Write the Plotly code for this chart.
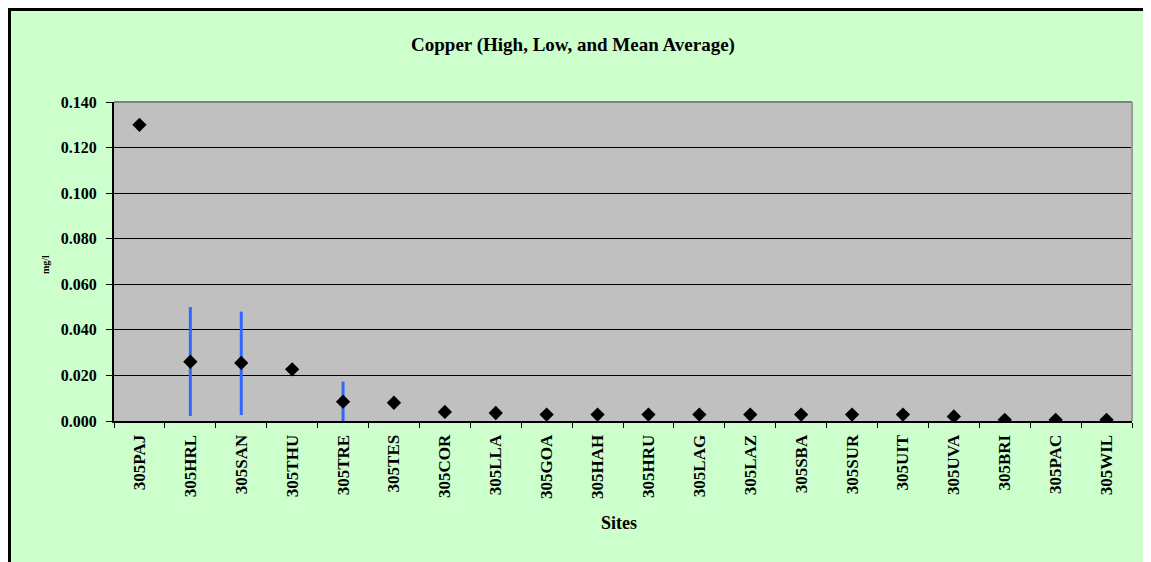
import plotly.graph_objects as go

# Copper results per site (mg/l)
sites = ["305PAJ", "305HRL", "305SAN", "305THU", "305TRE", "305TES", "305COR",
         "305LLA", "305GOA", "305HAH", "305HRU", "305LAG", "305LAZ", "305SBA",
         "305SUR", "305UIT", "305UVA", "305BRI", "305PAC", "305WIL"]
mean_avg = [0.130, 0.026, 0.0255, 0.0227, 0.0085, 0.008, 0.004,
            0.0035, 0.0028, 0.0028, 0.0028, 0.0028, 0.0028, 0.0028,
            0.0028, 0.0028, 0.002, 0.0005, 0.0005, 0.0005]
high = [0.130, 0.050, 0.048, 0.0227, 0.0173, 0.008, 0.004,
        0.0035, 0.0028, 0.0028, 0.0028, 0.0028, 0.0028, 0.0028,
        0.0028, 0.0028, 0.002, 0.0005, 0.0005, 0.0005]
low = [0.130, 0.0022, 0.0026, 0.0227, 0.0, 0.008, 0.004,
       0.0035, 0.0028, 0.0028, 0.0028, 0.0028, 0.0028, 0.0028,
       0.0028, 0.0028, 0.002, 0.0005, 0.0005, 0.0005]
y_ticks = [0.0, 0.02, 0.04, 0.06, 0.08, 0.10, 0.12, 0.14]

err_plus = [h - m for h, m in zip(high, mean_avg)]
err_minus = [m - l for m, l in zip(mean_avg, low)]

serif = "Liberation Serif, Times New Roman, serif"
green = "#CCFFCC"

fig = go.Figure()
fig.add_trace(go.Scatter(
    x=sites,
    y=mean_avg,
    mode="markers",
    marker=dict(symbol="diamond", size=11, color="black"),
    error_y=dict(type="data", symmetric=False, array=err_plus,
                 arrayminus=err_minus, color="#3366FF", thickness=3, width=0),
    showlegend=False,
))

# page has an 8px body margin, so figure coords = screen coords - 8
OFF = 8
W, H = 1151 - OFF, 562 - OFF
L, R, T, B = 114 - OFF, 1132 - OFF, 102 - OFF, 421 - OFF


def px(x):
    return (x - OFF - L) / (R - L)


def py(y):
    return (B - (y - OFF)) / (B - T)


shapes = [
    # black chart border on left and top
    dict(type="line", xref="paper", yref="paper", x0=px(9.5), x1=px(9.5),
         y0=py(8), y1=py(562), line=dict(color="black", width=3)),
    dict(type="line", xref="paper", yref="paper", x0=px(8), x1=px(1151),
         y0=py(9.5), y1=py(9.5), line=dict(color="black", width=3)),
    # plot area top/right border
    dict(type="line", xref="paper", yref="paper", x0=0, x1=1, y0=1, y1=1,
         line=dict(color="#808080", width=2)),
    dict(type="line", xref="paper", yref="paper", x0=1, x1=1, y0=0, y1=1,
         line=dict(color="#999999", width=2)),
]

fig.update_layout(
    width=W,
    height=H,
    paper_bgcolor=green,
    plot_bgcolor="#C0C0C0",
    margin=dict(l=L, r=W - R, t=T, b=H - B),
    font=dict(family=serif, color="black"),
    title=dict(text="<b>Copper (High, Low, and Mean Average)</b>",
               x=(573 - OFF) / W, xanchor="center",
               y=1 - (44 - OFF) / H, yanchor="middle",
               xref="container", yref="container",
               font=dict(family=serif, size=19, color="black")),
    xaxis=dict(
        type="category",
        range=[-0.5, len(sites) - 0.5],
        showgrid=False,
        showline=True, linecolor="black", linewidth=2,
        ticks="outside", tickson="boundaries", ticklen=5,
        tickcolor="black", tickwidth=1,
        tickangle=-90, ticklabelstandoff=5,
        tickfont=dict(family=serif, size=17, color="black", weight="bold"),
    ),
    yaxis=dict(
        range=[0, 0.14],
        tickvals=y_ticks,
        tickformat=".3f",
        showgrid=True, gridcolor="black", gridwidth=1,
        zeroline=False,
        showline=True, linecolor="black", linewidth=2,
        ticks="outside", ticklen=6, tickcolor="black", tickwidth=1,
        ticklabelstandoff=6,
        tickfont=dict(family=serif, size=16, color="black", weight="bold"),
    ),
    shapes=shapes,
    annotations=[
        dict(text="<b>Sites</b>", xref="paper", yref="paper",
             x=px(619), y=py(523), xanchor="center", yanchor="middle",
             showarrow=False,
             font=dict(family=serif, size=18, color="black")),
        dict(text="<b>mg/l</b>", xref="paper", yref="paper",
             x=px(45), y=py(265), xanchor="center", yanchor="middle",
             showarrow=False, textangle=-90,
             font=dict(family=serif, size=10, color="black")),
    ],
)

fig.write_html("out.html")
